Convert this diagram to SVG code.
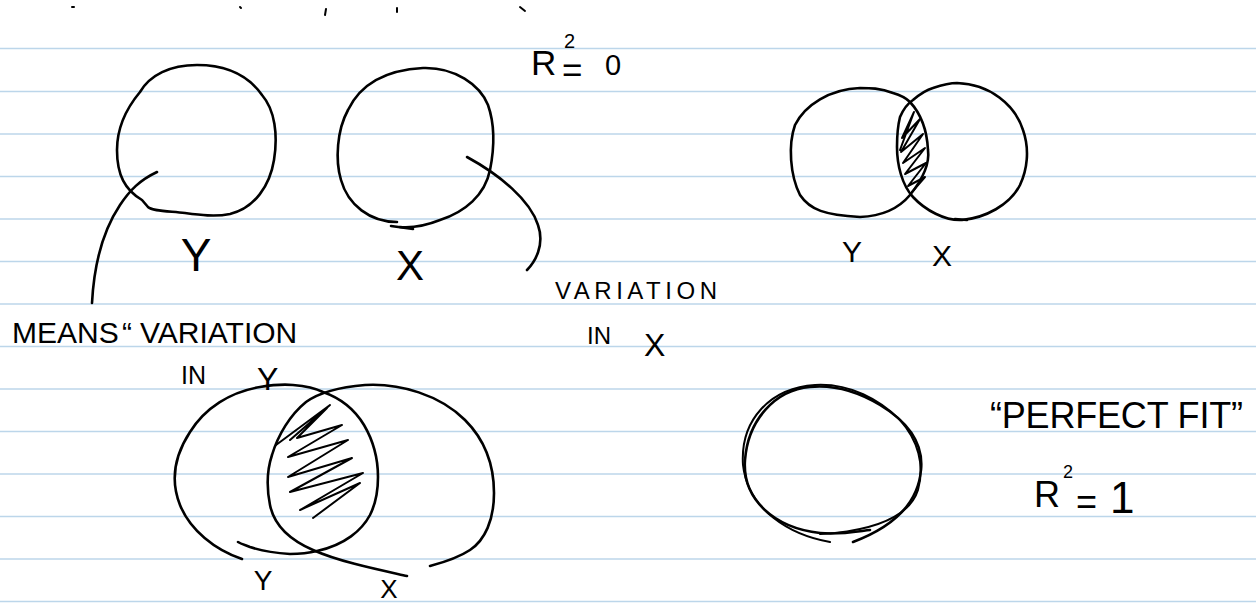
<svg xmlns="http://www.w3.org/2000/svg" width="1256" height="607" viewBox="0 0 1256 607">
<style>
.rule{stroke:#bcd6ea;stroke-width:1.6}
.ink{fill:none;stroke:#000;stroke-width:2.6;stroke-linecap:round;stroke-linejoin:round}
.fine{fill:none;stroke:#000;stroke-width:2;stroke-linecap:round;stroke-linejoin:round}
text{font-family:"Liberation Sans","DejaVu Sans",sans-serif;fill:#000}
</style>
<rect width="1256" height="607" fill="#fff"/>
<g id="paper">
<line class="rule" x1="0" y1="48.5" x2="1256" y2="48.5"/>
<line class="rule" x1="0" y1="91.5" x2="1256" y2="91.5"/>
<line class="rule" x1="0" y1="134" x2="1256" y2="134"/>
<line class="rule" x1="0" y1="176.5" x2="1256" y2="176.5"/>
<line class="rule" x1="0" y1="219" x2="1256" y2="219"/>
<line class="rule" x1="0" y1="261.5" x2="1256" y2="261.5"/>
<line class="rule" x1="0" y1="304" x2="1256" y2="304"/>
<line class="rule" x1="0" y1="346.5" x2="1256" y2="346.5"/>
<line class="rule" x1="0" y1="389" x2="1256" y2="389"/>
<line class="rule" x1="0" y1="431.5" x2="1256" y2="431.5"/>
<line class="rule" x1="0" y1="474" x2="1256" y2="474"/>
<line class="rule" x1="0" y1="516.5" x2="1256" y2="516.5"/>
<line class="rule" x1="0" y1="559" x2="1256" y2="559"/>
<line class="rule" x1="0" y1="601.5" x2="1256" y2="601.5"/>
</g>
<g id="stray-marks" class="fine">
<path d="M72,7 L74,7"/>
<path d="M240,7 L241,8"/>
<path d="M326,9 L325,15"/>
<path d="M397,8 L397,12"/>
<path d="M520,7 L525,11"/>
</g>
<g id="node-y-top">
<path class="ink" d="M148,207 C152,211 166,211 185,213 C200,215 215,217 230,214 C255,208 270,185 274,160 C278,135 275,110 262,95 C248,75 225,65 197,65 C170,65 150,75 140,92 C125,110 117,130 117,150 C117,175 125,190 142,200 L148,207"/>
<text x="196" y="271" font-size="46" text-anchor="middle">Y</text>
</g>
<g id="node-x-top">
<path class="ink" d="M397,222 C370,222 348,205 341,180 C335,160 337,130 348,110 C360,85 385,70 423,68 C455,67 480,85 488,105 C495,125 494,150 490,170 C485,195 465,212 440,220 C425,226 412,228 400,227"/>
<path class="ink" d="M391,226 L413,229" stroke-width="4"/>
<text x="410" y="280" font-size="42" text-anchor="middle">X</text>
</g>
<g id="r2-zero">
<text font-size="35" y="75"><tspan x="531">R</tspan><tspan x="564" y="48" font-size="20">2</tspan><tspan x="562" y="82">=</tspan><tspan x="605" y="75" font-size="29">0</tspan></text>
</g>
<g id="node-venn-small">
<path class="ink" d="M893,93 C880,88 870,88 860,88 C830,89 805,105 795,125 C788,145 790,175 800,195 C810,210 825,215 860,217 C885,216 900,207 910,195 C922,180 930,165 928,150 C927,130 922,115 910,102 C905,97 900,95 893,93"/>
<path class="ink" d="M933,88 C945,84 950,83 957,83 C990,84 1015,105 1023,130 C1030,150 1027,170 1020,185 C1010,205 985,218 962,220 C945,221 925,210 913,197 C902,185 897,165 897,147 C897,135 898,125 900,117 C903,110 907,104 913,100 C920,94 926,90 933,88"/>
<path class="ink" d="M955,219 L967,220" stroke-width="4"/>
<path class="fine" d="M900,150 L914,112 L902,138 L920,119 L901,152 L923,134 L903,163 L925,148 L905,174 L926,163 L908,186 L925,177 L912,192"/>
<text x="852" y="262" font-size="30" text-anchor="middle">Y</text>
<text x="942" y="266" font-size="30" text-anchor="middle">X</text>
</g>
<g id="node-venn-large">
<path class="ink" d="M242,559 C215,550 190,530 180,505 C170,480 175,455 190,432 C205,408 230,392 260,387 C272,385 283,384 293,385 C305,386 315,388 323,392 C340,398 355,410 364,425 C374,442 378,460 378,477 C378,495 375,505 370,515 C362,530 345,545 317,551 C305,554 298,554 290,554 C275,553 262,551 250,547 C245,545 241,544 238,542"/>
<path class="ink" d="M407,576 C380,570 340,562 313,550 C290,540 274,525 270,505 C266,485 267,470 272,455 C278,435 290,415 306,402 C320,392 340,387 365,385 C400,383 440,395 465,420 C485,440 494,465 494,493 C494,520 485,540 470,550 C458,558 445,562 430,566"/>
<path class="fine" d="M276,445 L330,405 L290,440 L327,408 L297,438 L342,425 L288,457 L348,440 L288,477 L352,458 L290,492 L363,473 L300,510 L360,483 L313,518"/>
<text x="263" y="590" font-size="28" text-anchor="middle">Y</text>
<text x="389" y="598" font-size="26" text-anchor="middle">X</text>
</g>
<g id="node-perfect">
<path class="ink" d="M853,542 C890,528 918,505 921,470 C924,440 905,420 880,405 C855,390 830,385 810,387 C775,390 748,420 745,460 C742,500 775,528 820,533 C840,535 860,531 870,530"/>
<path class="fine" d="M830,542 C790,535 748,510 743,465 C740,420 770,388 815,385 C850,383 880,400 900,420 C918,440 925,465 918,490 C910,515 880,528 835,533 L820,534"/>
<text font-size="36" x="990" y="428" textLength="253" lengthAdjust="spacing">“PERFECT FIT”</text>
<text font-size="36" y="507"><tspan x="1034">R</tspan><tspan x="1063" y="478" font-size="18">2</tspan><tspan x="1076" y="514">=</tspan><tspan x="1110" y="513" font-size="44">1</tspan></text>
</g>
<g id="labels">
<text font-size="30" y="343"><tspan x="12">MEANS</tspan><tspan x="122">“</tspan><tspan x="140">VARIATION</tspan></text>
<text font-size="25" y="384"><tspan x="181">IN</tspan><tspan x="257" y="390" font-size="32">Y</tspan></text>
<text font-size="24" x="555" y="299" textLength="162" lengthAdjust="spacing">VARIATION</text>
<text font-size="24" y="344"><tspan x="587">IN</tspan><tspan x="644" y="356" font-size="32">X</tspan></text>
</g>
<g id="connectors">
<path class="ink" d="M157,172 C140,180 130,190 120,205 C102,232 94,265 92,303"/>
<path class="ink" d="M467,157 C500,175 530,200 538,225 C545,245 535,262 527,270"/>
</g>
</svg>
